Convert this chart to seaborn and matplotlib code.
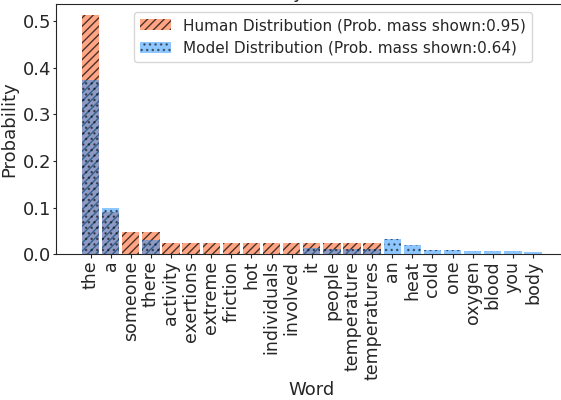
import matplotlib
matplotlib.use("Agg")
import matplotlib.pyplot as plt
import seaborn as sns
import pandas as pd

# data
words = ['the', 'a', 'someone', 'there', 'activity', 'exertions', 'extreme',
         'friction', 'hot', 'individuals', 'involved', 'it', 'people',
         'temperature', 'temperatures', 'an', 'heat', 'cold', 'one',
         'oxygen', 'blood', 'you', 'body']
human_prob = [0.512, 0.091, 0.047, 0.047, 0.024, 0.024, 0.024, 0.024, 0.024,
              0.024, 0.024, 0.024, 0.024, 0.024, 0.024, 0, 0, 0, 0, 0, 0, 0, 0]
model_prob = [0.373, 0.099, 0, 0.031, 0, 0, 0, 0, 0, 0, 0, 0.013, 0.012,
              0.011, 0.011, 0.033, 0.020, 0.0096, 0.0096, 0.0075, 0.0075,
              0.0075, 0.0053]
human_mass = 0.95
model_mass = 0.64

df = pd.DataFrame({'Word': words, 'Human': human_prob, 'Model': model_prob})

sns.set_style('white')
plt.rcParams['font.family'] = ['DejaVu Sans']

fig = plt.figure(figsize=(5.61, 4.0), dpi=100)
ax = fig.add_axes([0.0998, 0.364, 0.912, 0.626])

sns.barplot(data=df, x='Word', y='Human', color='coral', alpha=0.7,
            saturation=1, width=0.86, hatch='////',
            label=f'Human Distribution (Prob. mass shown:{human_mass})', ax=ax)
sns.barplot(data=df, x='Word', y='Model', color='dodgerblue', alpha=0.5,
            saturation=1, width=0.86, hatch='...',
            label=f'Model Distribution (Prob. mass shown:{model_mass})', ax=ax)

# dark hatch lines, no visible outline
for p in ax.patches:
    p.set_edgecolor('black')
    p.set_linewidth(0)

ax.set_xlim(-1.72, 23.72)
ax.set_ylim(0, 0.536)
ax.set_title('Probability Distribution', fontsize=13, pad=4)
ax.set_xlabel('Word', fontsize=13, labelpad=1)
ax.set_ylabel('Probability', fontsize=13, labelpad=3)
ax.tick_params(axis='x', labelrotation=90, labelsize=12.5, length=3, pad=1.5, bottom=True)
ax.tick_params(axis='y', labelsize=13, length=2.5, pad=1, left=True)

leg = ax.legend(loc='upper left', bbox_to_anchor=(134 / 561, 1 - 12 / 400),
                bbox_transform=fig.transFigure, borderaxespad=0, fontsize=11)
for h in leg.legend_handles:
    h.set_edgecolor('black')
    h.set_linewidth(0)

fig.savefig('out.png', dpi=100)
